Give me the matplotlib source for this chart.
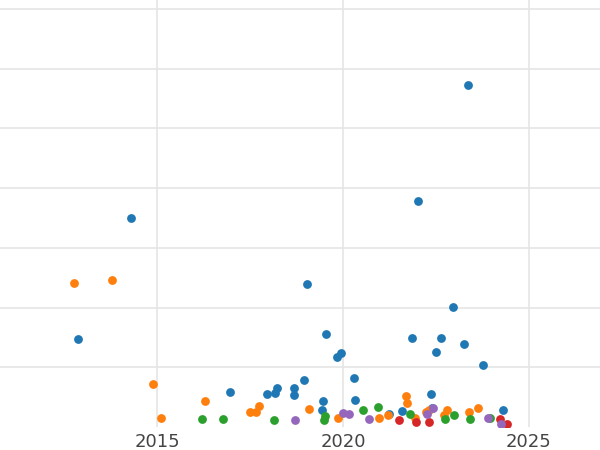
import matplotlib
matplotlib.use("Agg")
import matplotlib.pyplot as plt

blue_x = [2012.88,2014.30,2016.96,2017.96,2018.17,2018.23,2018.68,2018.68,2018.95,2019.03,2019.46,2019.44,2019.54,2019.84,2019.95,2020.30,2020.32,2021.24,2021.59,2021.86,2022.02,2022.37,2022.50,2022.63,2022.96,2023.25,2023.36,2023.76,2024.30,2022.39]
blue_y = [1.47,3.50,0.59,0.55,0.57,0.65,0.65,0.54,0.79,2.40,0.44,0.28,1.56,1.17,1.24,0.82,0.45,0.22,0.27,1.49,3.79,0.55,1.26,1.49,2.01,1.39,5.73,1.04,0.28,0.32]
orange_x = [2012.77,2013.79,2014.89,2015.11,2016.29,2017.50,2017.66,2017.74,2019.09,2019.87,2020.97,2021.21,2021.69,2021.72,2021.94,2022.23,2022.31,2022.80,2023.39,2023.63,2022.72]
orange_y = [2.41,2.46,0.72,0.15,0.44,0.25,0.25,0.35,0.30,0.15,0.15,0.20,0.52,0.40,0.15,0.25,0.28,0.28,0.25,0.32,0.20]
green_x = [2016.21,2016.77,2018.15,2019.49,2020.54,2020.94,2021.80,2022.74,2022.98,2023.41,2023.95,2019.52]
green_y = [0.13,0.13,0.12,0.12,0.28,0.34,0.22,0.13,0.20,0.13,0.15,0.18]
red_x = [2021.51,2021.96,2022.31,2024.22,2024.41]
red_y = [0.12,0.08,0.08,0.13,0.05]
purple_x = [2018.71,2020.00,2020.16,2020.70,2022.26,2022.42,2023.90,2024.25]
purple_y = [0.12,0.23,0.22,0.13,0.22,0.32,0.15,0.05]

series = [(blue_x, blue_y, "#1f77b4"), (orange_x, orange_y, "#ff7f0e"),
          (green_x, green_y, "#2ca02c"), (red_x, red_y, "#d62728"),
          (purple_x, purple_y, "#9467bd")]

fig = plt.figure(figsize=(6, 4.5), dpi=100)
ax = fig.add_axes([0, 23/450, 1, 427/450])
for xs, ys, c in series:
    ax.scatter(xs, ys, s=40, color=c, zorder=3, linewidths=0)
ax.set_xlim(2010.78, 2026.91)
ax.set_ylim(0, 7.15)
ax.set_xticks([2015, 2020, 2025])
ax.set_yticks([1, 2, 3, 4, 5, 6, 7])
ax.set_yticklabels([])
ax.grid(True, which="major", color="#e5e5e5", linewidth=1.2)
for s in ax.spines.values():
    s.set_visible(False)
ax.tick_params(axis="both", which="both", length=0, labelsize=13, labelcolor="#444444")
ax.tick_params(axis="x", pad=4)
fig.savefig("out.png", dpi=100)
